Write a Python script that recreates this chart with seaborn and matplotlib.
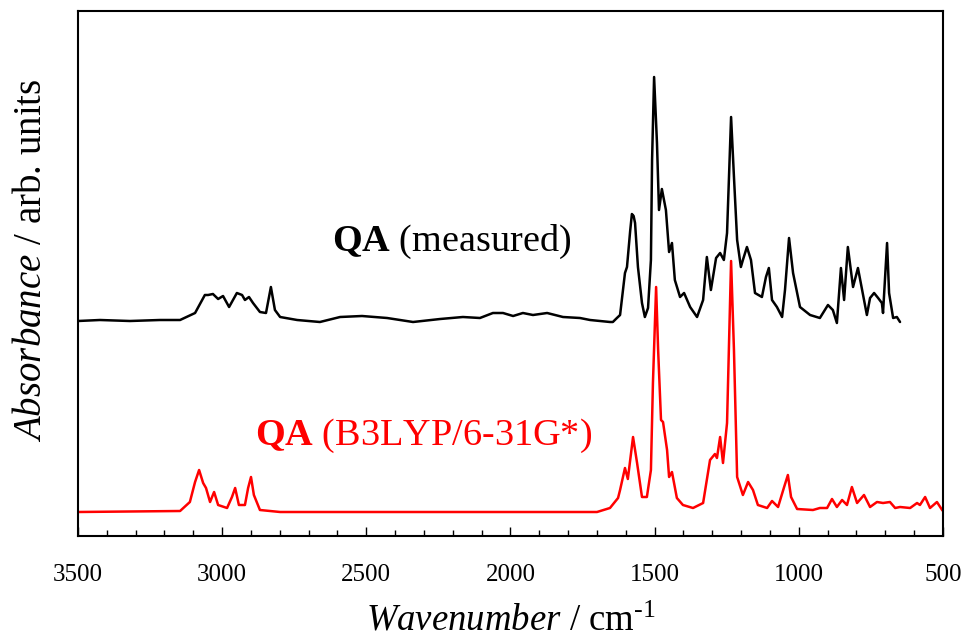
import numpy as np
import pandas as pd
import matplotlib
matplotlib.use("Agg")
import matplotlib.pyplot as plt
from matplotlib.ticker import MultipleLocator
import seaborn as sns

# measured IR spectrum of QA (wavenumber / cm-1, absorbance in arb. units, offset)
measured_wn = [3500, 3424, 3320, 3216, 3146, 3094, 3060, 3049, 3032, 3014, 2997, 2976,
               2949, 2931, 2921, 2907, 2893, 2869, 2848, 2831, 2817, 2799, 2740, 2661,
               2591, 2515, 2428, 2338, 2244, 2165, 2106, 2061, 2026, 1991, 1957, 1922,
               1873, 1818, 1759, 1724, 1655, 1645, 1631, 1620, 1603, 1596, 1585, 1579, 1573, 1568,
               1558, 1544, 1534, 1523, 1513, 1509, 1502, 1492, 1485, 1475, 1461, 1450,
               1440, 1430, 1412, 1398, 1377, 1353, 1332, 1319, 1305, 1287, 1273, 1260,
               1249, 1235, 1225, 1214, 1201, 1194, 1180, 1166, 1152, 1128, 1114, 1104,
               1093, 1076, 1058, 1048, 1034, 1020, 996, 961, 927, 899, 882, 868,
               854, 843, 830, 812, 795, 764, 753, 739, 725, 712, 708, 694,
               687, 673, 660, 649]
measured_abs = [2.15, 2.16, 2.15, 2.16, 2.16, 2.23, 2.41, 2.41, 2.42, 2.37, 2.40, 2.29,
                2.43, 2.41, 2.36, 2.39, 2.33, 2.24, 2.23, 2.49, 2.26, 2.19, 2.16, 2.14,
                2.19, 2.20, 2.18, 2.14, 2.17, 2.19, 2.18, 2.23, 2.23, 2.20, 2.23, 2.21,
                2.23, 2.19, 2.18, 2.16, 2.14, 2.14, 2.18, 2.21, 2.63, 2.69, 3.05, 3.22, 3.20, 3.13,
                2.69, 2.33, 2.19, 2.28, 2.76, 3.76, 4.59, 3.93, 3.26, 3.47, 3.26, 2.84,
                2.93, 2.56, 2.39, 2.43, 2.29, 2.19, 2.36, 2.79, 2.46, 2.78, 2.83, 2.76,
                3.03, 4.19, 3.59, 2.96, 2.69, 2.76, 2.89, 2.76, 2.43, 2.39, 2.59, 2.68,
                2.36, 2.29, 2.19, 2.46, 2.98, 2.63, 2.29, 2.21, 2.18, 2.31, 2.26, 2.13,
                2.68, 2.36, 2.89, 2.49, 2.68, 2.21, 2.38, 2.43, 2.38, 2.33, 2.23, 2.93,
                2.43, 2.18, 2.19, 2.14]

# calculated spectrum (B3LYP/6-31G*)
calc_wn = [3500, 3146, 3112, 3094, 3080, 3066, 3056, 3042, 3028, 3014, 2983, 2966,
           2955, 2942, 2921, 2910, 2900, 2890, 2869, 2799, 1700, 1655, 1627, 1620,
           1603, 1593, 1575, 1561, 1544, 1527, 1513, 1506, 1495, 1488, 1478, 1471,
           1457, 1450, 1440, 1423, 1402, 1367, 1332, 1308, 1291, 1284, 1273, 1263,
           1249, 1235, 1225, 1214, 1194, 1176, 1159, 1142, 1110, 1093, 1072, 1051,
           1038, 1027, 1006, 951, 927, 902, 885, 868, 850, 833, 816, 798,
           774, 753, 729, 708, 684, 666, 649, 614, 590, 580, 562, 545,
           521, 503, 500]
calc_abs = [0.24, 0.25, 0.34, 0.54, 0.66, 0.53, 0.48, 0.34, 0.44, 0.31, 0.28, 0.39,
            0.48, 0.31, 0.31, 0.48, 0.59, 0.41, 0.26, 0.24, 0.24, 0.28, 0.38, 0.46,
            0.68, 0.57, 0.99, 0.73, 0.39, 0.39, 0.66, 1.53, 2.49, 1.86, 1.16, 1.14,
            0.86, 0.59, 0.64, 0.38, 0.31, 0.28, 0.33, 0.76, 0.82, 0.78, 0.99, 0.73,
            1.13, 2.75, 1.86, 0.59, 0.41, 0.54, 0.46, 0.31, 0.28, 0.35, 0.29, 0.49,
            0.61, 0.39, 0.27, 0.26, 0.28, 0.28, 0.37, 0.29, 0.36, 0.31, 0.49, 0.33,
            0.41, 0.29, 0.34, 0.33, 0.34, 0.28, 0.29, 0.28, 0.33, 0.31, 0.39, 0.28,
            0.34, 0.26, 0.25]

x_ticks = [3500, 3000, 2500, 2000, 1500, 1000, 500]

measured = pd.DataFrame({"wn": measured_wn, "abs": measured_abs})
calc = pd.DataFrame({"wn": calc_wn, "abs": calc_abs})

sns.set_style("ticks")
plt.rcParams["font.family"] = ["Liberation Serif", "DejaVu Serif"]
plt.rcParams["mathtext.fontset"] = "custom"
plt.rcParams["mathtext.rm"] = "Liberation Serif"
plt.rcParams["mathtext.it"] = "Liberation Serif:italic"
plt.rcParams["mathtext.bf"] = "Liberation Serif:bold"
for key in ["text.color", "axes.labelcolor", "xtick.color", "ytick.color", "axes.edgecolor"]:
    plt.rcParams[key] = "black"

fig = plt.figure(figsize=(9.65, 6.39), dpi=100)
ax = fig.add_axes([78 / 965, 103 / 639, 865 / 965, 525 / 639])

sns.lineplot(data=measured, x="wn", y="abs", color="black", linewidth=1.8, ax=ax)
sns.lineplot(data=calc, x="wn", y="abs", color="red", linewidth=1.8, ax=ax)

ax.set_xlim(3500, 500)
ax.set_ylim(0, 5.25)
ax.set_xticks(x_ticks)
ax.xaxis.set_minor_locator(MultipleLocator(100))
ax.set_yticks([])
ax.tick_params(axis="x", which="major", direction="in", length=6.5, width=1.0,
               labelsize=18, pad=20, top=False)
ax.tick_params(axis="x", which="minor", direction="in", length=4.3, width=1.0, top=False)
for sp in ax.spines.values():
    sp.set_linewidth(1.5)
    sp.set_color("black")

ax.set_xlabel(r"$\mathit{Wavenumber}$ / cm$^{\text{-}1}$", fontsize=26.5, labelpad=13)
ax.set_ylabel(r"$\mathit{Absorbance}$ / arb. units", fontsize=28)
ax.yaxis.set_label_coords(-0.032, 0.526)

ax.text(2619, 2.85, r"$\mathbf{QA}$ (measured)", fontsize=27.5, color="black",
        ha="left", va="baseline")
ax.text(2886, 0.91, r"$\mathbf{QA}$ (B3LYP/6-31G*)", fontsize=27.5, color="red",
        ha="left", va="baseline")

fig.savefig("out.png", dpi=100)
